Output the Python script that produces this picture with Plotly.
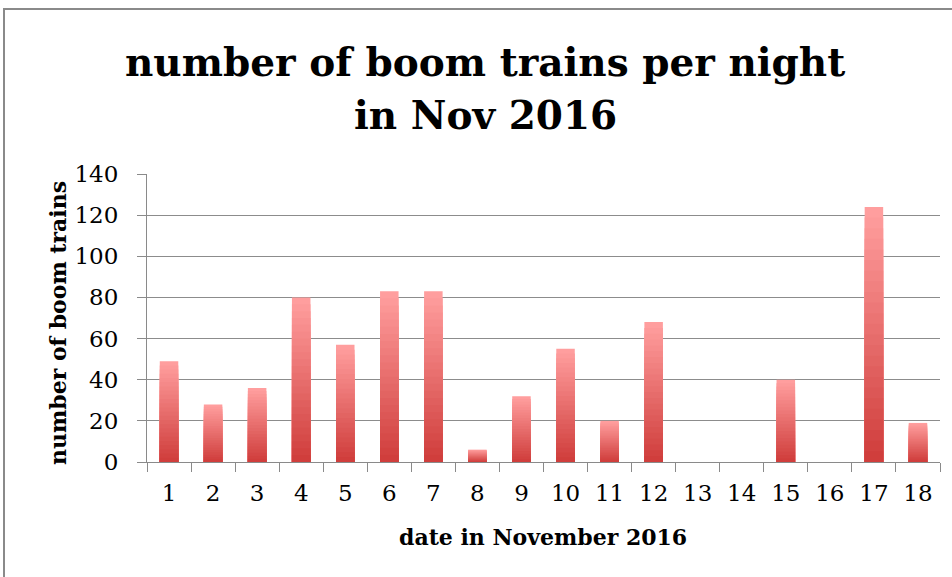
import plotly.graph_objects as go

dates = [str(d) for d in range(1, 19)]
trains = [49, 28, 36, 80, 57, 83, 83, 6, 32, 55, 20, 68, 0, 0, 40, 0, 124, 19]
y_ticks = [0, 20, 40, 60, 80, 100, 120, 140]

title_line1 = "number of boom trains per night"
title_line2 = "in Nov 2016"
x_title = "date in November 2016"
y_title = "number of boom trains"

top_rgb = (255, 158, 158)
bot_rgb = (208, 62, 60)

fig = go.Figure()
steps = 24
for i in range(steps):
    f = 1 - i / steps
    t = i / (steps - 1)
    c = tuple(round(top_rgb[k] + (bot_rgb[k] - top_rgb[k]) * t) for k in range(3))
    fig.add_trace(go.Bar(
        x=dates, y=[v * f for v in trains], width=0.42,
        marker=dict(color="rgb(%d,%d,%d)" % c, line=dict(width=0)),
        hoverinfo="skip", showlegend=False,
    ))

serif = "DejaVu Serif"
W, H = 952, 577
# plot area in page pixels: x 147..940, y 174..462
L, R, T, B = 147, W - 940, 174, H - 462
pw, ph = W - L - R, H - T - B


def px(xp):
    return (xp - L) / pw


def py(yp):
    return (H - B - yp) / ph


fig.update_layout(
    width=W, height=H,
    barmode="overlay",
    paper_bgcolor="white", plot_bgcolor="white",
    margin=dict(l=L, r=R, t=T, b=B, autoexpand=False),
    xaxis=dict(
        type="category", tickson="boundaries", showline=True, linecolor="#8a8a8a",
        linewidth=1, ticks="outside", ticklen=9, tickcolor="#8a8a8a",
        showgrid=False, ticklabelstandoff=10, automargin=False,
        tickfont=dict(family=serif, size=23, color="black"),
    ),
    yaxis=dict(
        range=[0, 140], tickvals=y_ticks, showline=True, linecolor="#8a8a8a",
        linewidth=1, ticks="outside", ticklen=9, tickcolor="#8a8a8a",
        showgrid=True, gridcolor="#8c8c8c", gridwidth=1, zeroline=False,
        ticklabelstandoff=14, automargin=False,
        tickfont=dict(family=serif, size=23, color="black"),
    ),
    annotations=[
        dict(text="<b>" + title_line1 + "</b>", xref="paper", yref="paper",
             x=px(485), y=py(62), xanchor="center", yanchor="middle", showarrow=False,
             font=dict(family=serif, size=39, color="black")),
        dict(text="<b>" + title_line2 + "</b>", xref="paper", yref="paper",
             x=px(485), y=py(115), xanchor="center", yanchor="middle", showarrow=False,
             font=dict(family=serif, size=39, color="black")),
        dict(text="<b>" + x_title + "</b>", xref="paper", yref="paper",
             x=px(543), y=py(537), xanchor="center", yanchor="middle", showarrow=False,
             font=dict(family=serif, size=22, color="black")),
        dict(text="<b>" + y_title + "</b>", xref="paper", yref="paper",
             x=px(58), y=py(323), xanchor="center", yanchor="middle", showarrow=False,
             textangle=-90,
             font=dict(family=serif, size=22, color="black")),
    ],
    shapes=[dict(type="rect", xref="paper", yref="paper",
                 x0=px(4), x1=1.2, y0=-0.5, y1=py(9),
                 line=dict(color="#8a8a8a", width=2), layer="below")],
)

fig.write_html("out.html",
               config={"displayModeBar": False, "staticPlot": True},
               post_script="document.body.style.margin='0';"
                           "document.body.style.overflow='hidden';")
